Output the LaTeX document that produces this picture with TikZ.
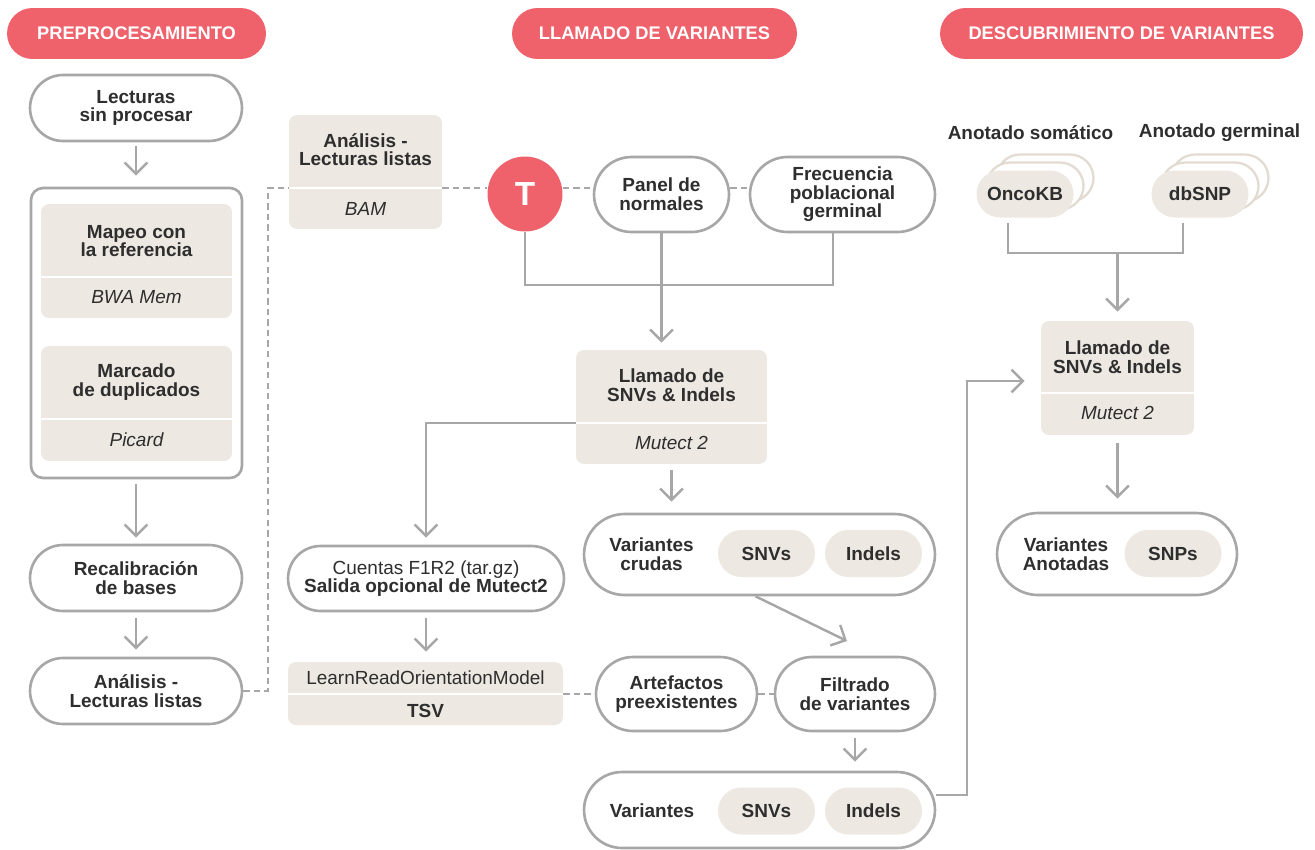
\documentclass[tikz,border=0pt]{standalone}
\usepackage{fontspec}
\setmainfont{Liberation Sans}
\usetikzlibrary{arrows.meta,shapes.misc}

\definecolor{rojo}{HTML}{EF626C}
\definecolor{crema}{HTML}{EDE8E2}
\definecolor{bordecrema}{HTML}{E2DBD1}
\definecolor{gris}{HTML}{A6A7A6}
\definecolor{tinta}{HTML}{2E2E2E}

\tikzset{
  txt/.style={font=\fontsize{10.8}{10.6}\selectfont\bfseries, text=tinta, align=center, inner sep=0pt},
  encabezado/.style={shape=rounded rectangle, fill=rojo, text=white, minimum height=1.02cm,
    font=\fontsize{10.4}{10.4}\selectfont\bfseries, inner sep=0pt},
  capsula/.style={txt, shape=rounded rectangle, draw=gris, line width=1.5pt, fill=white, minimum height=1.32cm},
  caja/.style={fill=crema, rounded corners=0.16cm, inner sep=0pt},
  herramienta/.style={txt, font=\fontsize{10.8}{10.6}\selectfont\itshape},
  pastilla/.style={txt, shape=rounded rectangle, fill=crema, minimum width=1.94cm, minimum height=0.94cm},
  fondo/.style={pastilla, fill=white, draw=bordecrema, line width=1.3pt},
  flecha/.style={draw=gris, line width=1.4pt, -{Straight Barb[length=6.5pt,width=13pt]},
    shorten <=0.12cm, shorten >=0.14cm},
  linea/.style={draw=gris, line width=1.4pt},
  punteada/.style={draw=gris, line width=1.5pt, dash pattern=on 3.6pt off 2.4pt},
  separador/.style={draw=white, line width=1.3pt},
}

\begin{document}
\begin{tikzpicture}[x=0.02cm,y=-0.02cm]
\useasboundingbox (0,0) rectangle (1315,849);

% encabezados
\node[encabezado, minimum width=5.18cm] (encPre) at (136.5,33.5) {PREPROCESAMIENTO};
\node[encabezado, minimum width=5.7cm] (encLlam) at (654.5,33.5) {LLAMADO DE VARIANTES};
\node[encabezado, minimum width=7.26cm] (encDesc) at (1121.5,33.5) {DESCUBRIMIENTO DE VARIANTES};

% preprocesamiento
\node[capsula, minimum width=4.24cm] (lecturas) at (136,108) {Lecturas\\sin procesar};
\node[draw=gris, line width=1.5pt, rounded corners=0.24cm, minimum width=4.22cm, minimum height=5.8cm] (grupo) at (136.5,333) {};

\node[caja, minimum width=3.82cm, minimum height=2.28cm] (mapeo) at (136.5,261) {};
\draw[separador] (41,277) -- (232,277);
\node[txt] (mapeoT) at (136.5,241) {Mapeo con\\la referencia};
\node[herramienta] (mapeoH) at (136.5,297.5) {BWA Mem};

\node[caja, minimum width=3.82cm, minimum height=2.3cm] (marcado) at (136.5,403.5) {};
\draw[separador] (41,419) -- (232,419);
\node[txt] (marcadoT) at (136.5,382) {Marcado\\de duplicados};
\node[herramienta] (marcadoH) at (136.5,439.5) {Picard};

\node[capsula, minimum width=4.24cm] (recal) at (136,578) {Recalibración\\de bases};
\node[capsula, minimum width=4.24cm] (analisis) at (136,691) {Análisis -\\Lecturas listas};

\draw[flecha, shorten <=0.08cm, shorten >=0.22cm] (lecturas.south) -- (lecturas.south |- grupo.north);
\draw[flecha, shorten <=0.1cm, shorten >=0.12cm] (recal.north |- grupo.south) -- (recal.north);
\draw[flecha] (recal.south) -- (analisis.north);

% llamado de variantes
\node[caja, minimum width=3.06cm, minimum height=2.28cm] (bam) at (365.5,172) {};
\draw[separador] (289,188) -- (442,188);
\node[txt] (bamT) at (365.5,149.5) {Análisis -\\Lecturas listas};
\node[herramienta] (bamH) at (365.5,208.5) {BAM};

\node[circle, fill=rojo, minimum size=1.5cm, inner sep=0pt, text=white,
  font=\fontsize{19}{19}\selectfont\bfseries] (tumor) at (525,194) {T};
\node[capsula, minimum width=2.7cm, minimum height=1.5cm] (panel) at (661.5,194.5) {Panel de\\normales};
\node[capsula, minimum width=3.7cm, minimum height=1.5cm] (frec) at (842.5,194.5) {Frecuencia\\poblacional\\germinal};

\coordinate (codoA) at (268,188);
\draw[punteada] (analisis.east) -| (codoA) -- (bam.west |- codoA);
\draw[punteada] (bam.east |- codoA) -- (tumor.west |- codoA);
\draw[punteada] (tumor.east |- codoA) -- (panel.west |- codoA);
\draw[punteada] (panel.east |- codoA) -- (frec.west |- codoA);

\node[caja, minimum width=3.82cm, minimum height=2.28cm] (llamado) at (671.5,407) {};
\draw[separador] (576,423) -- (767,423);
\node[txt] (llamadoT) at (671.5,385.5) {Llamado de\\SNVs \& Indels};
\node[herramienta] (llamadoH) at (671.5,443) {Mutect 2};

\coordinate (juntaT) at (661.5,285);
\draw[linea] (tumor.south) |- (juntaT) -| ([xshift=-0.19cm]frec.south);
\draw[flecha, shorten <=0pt] (panel.south) -- (panel.south |- llamado.north);

\node[capsula, minimum width=7.02cm, minimum height=1.62cm] (crudas) at (759.5,554.5) {};
\node[txt] (crudasT) at (651.5,554) {Variantes\\crudas};
\node[pastilla] (crudasSNV) at (766.5,553.5) {SNVs};
\node[pastilla] (crudasIndel) at (873.5,553.5) {Indels};

\node[capsula, minimum width=5.52cm, minimum height=1.3cm] (cuentas) at (426,578.5)
  {{\mdseries Cuentas F1R2 (tar.gz)}\\Salida opcional de Mutect2};
\node[caja, minimum width=5.5cm, minimum height=1.26cm] (learn) at (425.5,693.5) {};
\draw[separador] (288,694) -- (563,694);
\node[txt, font=\fontsize{10.8}{10.6}\selectfont] (learnT) at (425.5,678) {LearnReadOrientationModel};
\node[txt] (learnH) at (425.5,710.5) {TSV};

\node[capsula, minimum width=3.22cm, minimum height=1.48cm] (arte) at (676.5,694) {Artefactos\\preexistentes};
\node[capsula, minimum width=3.2cm, minimum height=1.48cm] (filtrado) at (855,694) {Filtrado\\de variantes};

\node[capsula, minimum width=7.02cm, minimum height=1.52cm] (variantes) at (759.5,810) {};
\node[txt] (variantesT) at (652,811) {Variantes};
\node[pastilla] (variantesSNV) at (766.5,811) {SNVs};
\node[pastilla] (variantesIndel) at (873.5,811) {Indels};

\draw[flecha, shorten <=0pt] ([yshift=-0.32cm]llamado.west) -| (cuentas.north);
\draw[flecha, shorten >=0.22cm] (llamado.south) -- (llamado.south |- crudas.north);
\coordinate (puntaF) at (847,641);
\draw[flecha, shorten <=0pt, shorten >=0pt] ([xshift=-0.08cm]crudas.south) -- (puntaF);
\draw[flecha, shorten >=0.2cm] (cuentas.south) -- (cuentas.south |- learn.north);
\draw[punteada] (learn.east |- arte.west) -- (arte.west);
\draw[punteada] (arte.east) -- (filtrado.west);
\draw[flecha, shorten >=0.18cm] (filtrado.south) -- (filtrado.south |- variantes.north);

% descubrimiento de variantes
\node[txt] (anotS) at (1030.5,133) {Anotado somático};
\node[txt] (anotG) at (1219.5,133) {Anotado germinal};

\node[fondo] (oncoB2) at (1045,178) {};
\node[fondo] (oncoB1) at (1035,186) {};
\node[pastilla] (onco) at (1025,194) {OncoKB};
\node[fondo] (dbsnpB2) at (1220,178) {};
\node[fondo] (dbsnpB1) at (1210,186) {};
\node[pastilla] (dbsnp) at (1200,194) {dbSNP};

\node[caja, minimum width=3.06cm, minimum height=2.28cm] (llam2) at (1117.5,378) {};
\draw[separador] (1041,393) -- (1194,393);
\node[txt] (llam2T) at (1117.5,357) {Llamado de\\SNVs \& Indels};
\node[herramienta] (llam2H) at (1117.5,413) {Mutect 2};

\node[capsula, minimum width=4.8cm, minimum height=1.64cm] (anotadas) at (1117,554) {};
\node[txt] (anotadasT) at (1066,554) {Variantes\\Anotadas};
\node[pastilla] (anotadasSNP) at (1173,553.5) {SNPs};

\coordinate (juntaA) at (1117.5,253);
\draw[linea, shorten <=0.1cm, shorten >=0.1cm] ([xshift=-0.34cm]onco.south) |- (juntaA) -| ([xshift=-0.34cm]dbsnp.south);
\draw[flecha, shorten <=0pt, shorten >=0.18cm] (juntaA) -- (llam2.north);
\draw[flecha, shorten <=0.16cm, shorten >=0.26cm] (llam2.south) -- (llam2.south |- anotadas.north);

\coordinate (codoV) at (967,381);
\draw[flecha, shorten <=0pt, shorten >=0.32cm] ([yshift=0.3cm]variantes.east) -| (codoV) -- (codoV -| llam2.west);
\end{tikzpicture}
\end{document}
